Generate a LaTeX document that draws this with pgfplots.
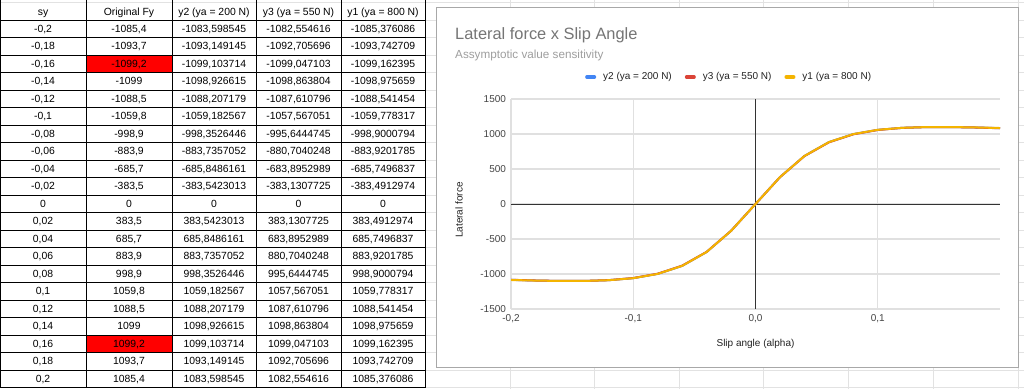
\documentclass[border=0pt]{standalone}
\usepackage{pgfplots}
\usepackage{pgfplotstable}
\pgfplotsset{compat=1.18}
\usepackage{fontspec}
\setmainfont{Liberation Sans}
\definecolor{sheetgrid}{HTML}{E2E2E2}
\definecolor{boxgrey}{HTML}{A8A8A8}
\definecolor{plotgrid}{HTML}{E0E0E0}
\definecolor{zeroline}{HTML}{333333}
\definecolor{titlegrey}{HTML}{757575}
\definecolor{subgrey}{HTML}{9E9E9E}
\definecolor{ticktext}{HTML}{444444}
\definecolor{labeltext}{HTML}{222222}
\definecolor{gblue}{HTML}{4285F4}
\definecolor{gred}{HTML}{DB4437}
\definecolor{gorange}{HTML}{F4B400}
\definecolor{cellred}{HTML}{FF0000}
\newcommand\fs[1]{\fontsize{#1}{#1}\selectfont}
\newcommand\trow[6]{%
  \pgfmathsetmacro\yy{20+17.5*#1+8.75+3.7}%
  \node[anchor=base,inner sep=0pt] at (43,\yy) {#2};
  \node[anchor=base,inner sep=0pt] at (129,\yy) {#3};
  \node[anchor=base,inner sep=0pt] at (214,\yy) {#4};
  \node[anchor=base,inner sep=0pt] at (298.5,\yy) {#5};
  \node[anchor=base,inner sep=0pt] at (383,\yy) {#6};
}
\pgfplotstableread{
sy     orig     y2            y3            y1
-0.20 -1085.4  -1083.598545  -1082.554616  -1085.376086
-0.18 -1093.7  -1093.149145  -1092.705696  -1093.742709
-0.16 -1099.2  -1099.103714  -1099.047103  -1099.162395
-0.14 -1099.0  -1098.926615  -1098.863804  -1098.975659
-0.12 -1088.5  -1088.207179  -1087.610796  -1088.541454
-0.10 -1059.8  -1059.182567  -1057.567051  -1059.778317
-0.08 -998.9   -998.3526446  -995.6444745  -998.9000794
-0.06 -883.9   -883.7357052  -880.7040248  -883.9201785
-0.04 -685.7   -685.8486161  -683.8952989  -685.7496837
-0.02 -383.5   -383.5423013  -383.1307725  -383.4912974
 0.00  0        0             0             0
 0.02  383.5    383.5423013   383.1307725   383.4912974
 0.04  685.7    685.8486161   683.8952989   685.7496837
 0.06  883.9    883.7357052   880.7040248   883.9201785
 0.08  998.9    998.3526446   995.6444745   998.9000794
 0.10  1059.8   1059.182567   1057.567051   1059.778317
 0.12  1088.5   1088.207179   1087.610796   1088.541454
 0.14  1099.0   1098.926615   1098.863804   1098.975659
 0.16  1099.2   1099.103714   1099.047103   1099.162395
 0.18  1093.7   1093.149145   1092.705696   1093.742709
 0.20  1085.4   1083.598545   1082.554616   1085.376086
}\datatable
\begin{document}
\begin{tikzpicture}
\useasboundingbox (0pt,0pt) rectangle (1024pt,-389pt);
\begin{scope}[x=1pt,y=-1pt]
  % spreadsheet background grid
  \foreach \xx in {510,594,679,763,848,933,1018}
    \draw[sheetgrid, line width=1pt] (\xx,0) -- (\xx,389);
  \draw[sheetgrid, line width=1pt] (425,2) -- (1024,2);
  \foreach \k in {0,...,21}
    \draw[sheetgrid, line width=1pt] (425,20+17.5*\k) -- (1024,20+17.5*\k);
  % red cells
  \fill[cellred] (86,20+17.5*2) rectangle (172,20+17.5*3);
  \fill[cellred] (86,20+17.5*18) rectangle (172,20+17.5*19);
  % table lines
  \draw[sheetgrid, line width=1pt] (0,2) -- (425,2);
  \foreach \k in {0,...,21}
    \draw[black, line width=0.9pt] (0,20+17.5*\k) -- (425,20+17.5*\k);
  \foreach \xx in {86,172,256,341,425}
    \draw[black, line width=0.9pt] (\xx,0) -- (\xx,388);
  \draw[black, line width=0.9pt] (0.5,0) -- (0.5,388);
  % table text
  \begin{scope}[font=\fs{10.4}]
  \node[anchor=base,inner sep=0pt] at (43,15.2) {sy};
  \node[anchor=base,inner sep=0pt] at (129,15.2) {Original Fy};
  \node[anchor=base,inner sep=0pt] at (214,15.2) {y2 (ya = 200 N)};
  \node[anchor=base,inner sep=0pt] at (298.5,15.2) {y3 (ya = 550 N)};
  \node[anchor=base,inner sep=0pt] at (383,15.2) {y1 (ya = 800 N)};
  \trow{0}{-0,2}{-1085,4}{-1083,598545}{-1082,554616}{-1085,376086}
  \trow{1}{-0,18}{-1093,7}{-1093,149145}{-1092,705696}{-1093,742709}
  \trow{2}{-0,16}{-1099,2}{-1099,103714}{-1099,047103}{-1099,162395}
  \trow{3}{-0,14}{-1099}{-1098,926615}{-1098,863804}{-1098,975659}
  \trow{4}{-0,12}{-1088,5}{-1088,207179}{-1087,610796}{-1088,541454}
  \trow{5}{-0,1}{-1059,8}{-1059,182567}{-1057,567051}{-1059,778317}
  \trow{6}{-0,08}{-998,9}{-998,3526446}{-995,6444745}{-998,9000794}
  \trow{7}{-0,06}{-883,9}{-883,7357052}{-880,7040248}{-883,9201785}
  \trow{8}{-0,04}{-685,7}{-685,8486161}{-683,8952989}{-685,7496837}
  \trow{9}{-0,02}{-383,5}{-383,5423013}{-383,1307725}{-383,4912974}
  \trow{10}{0}{0}{0}{0}{0}
  \trow{11}{0,02}{383,5}{383,5423013}{383,1307725}{383,4912974}
  \trow{12}{0,04}{685,7}{685,8486161}{683,8952989}{685,7496837}
  \trow{13}{0,06}{883,9}{883,7357052}{880,7040248}{883,9201785}
  \trow{14}{0,08}{998,9}{998,3526446}{995,6444745}{998,9000794}
  \trow{15}{0,1}{1059,8}{1059,182567}{1057,567051}{1059,778317}
  \trow{16}{0,12}{1088,5}{1088,207179}{1087,610796}{1088,541454}
  \trow{17}{0,14}{1099}{1098,926615}{1098,863804}{1098,975659}
  \trow{18}{0,16}{1099,2}{1099,103714}{1099,047103}{1099,162395}
  \trow{19}{0,18}{1093,7}{1093,149145}{1092,705696}{1093,742709}
  \trow{20}{0,2}{1085,4}{1083,598545}{1082,554616}{1085,376086}
  \end{scope}
  % chart box
  \draw[boxgrey, fill=white, line width=1pt] (436,7) rectangle (1018,367);
  \node[anchor=base west, inner sep=0pt, font=\fs{16.4}, text=titlegrey] at (455,39) {Lateral force x Slip Angle};
  \node[anchor=base west, inner sep=0pt, font=\fs{11.7}, text=subgrey] at (455,58) {Assymptotic value sensitivity};
\end{scope}
\begin{axis}[
  at={(511pt,-309pt)}, anchor=south west,
  scale only axis, width=489pt, height=210pt,
  xmin=-0.2, xmax=0.2, ymin=-1500, ymax=1500,
  axis line style={draw=none},
  major tick style={draw=none},
  xtick={-0.2,-0.1,0,0.1},
  xticklabels={{-0,2},{-0,1},{0,0},{0,1}},
  ytick={-1500,-1000,-500,0,500,1000,1500},
  yticklabels={-1500,-1000,-500,0,500,1000,1500},
  grid=major,
  major grid style={draw=plotgrid, line width=1.2pt},
  tick label style={font=\fs{10}, text=ticktext},
  xticklabel style={yshift=-2pt},
  yticklabel style={xshift=-1.5pt},
  xlabel={Slip angle (alpha)}, ylabel={Lateral force},
  xlabel style={at={(axis description cs:0.5,-0.1667)}, anchor=center, font=\fs{10}, text=labeltext},
  ylabel style={at={(axis description cs:-0.1063,0.4714)}, anchor=center, font=\fs{10}, text=labeltext},
  legend style={at={(axis description cs:0.1513,1.1048)}, anchor=west, draw=none, fill=none,
    inner xsep=0pt, inner ysep=0pt, font=\fs{10}, text=labeltext,
    legend columns=3,
    /tikz/every odd column/.append style={column sep=5pt},
    /tikz/every even column/.append style={column sep=11pt}},
  legend image code/.code={\draw[line width=3.5pt, line cap=round] (1.75pt,0pt) -- (9.25pt,0pt);},
]
\draw[zeroline, line width=1pt] (axis cs:-0.2,0) -- (axis cs:0.2,0);
\draw[zeroline, line width=1pt] (axis cs:0,-1500) -- (axis cs:0,1500);
\addplot[gblue, line width=2pt] table[x=sy, y=y2] {\datatable};
\addlegendentry{y2 (ya = 200 N)}
\addplot[gred, line width=2pt] table[x=sy, y=y3] {\datatable};
\addlegendentry{y3 (ya = 550 N)}
\addplot[gorange, line width=2pt] table[x=sy, y=y1] {\datatable};
\addlegendentry{y1 (ya = 800 N)}
\end{axis}
\end{tikzpicture}
\end{document}
